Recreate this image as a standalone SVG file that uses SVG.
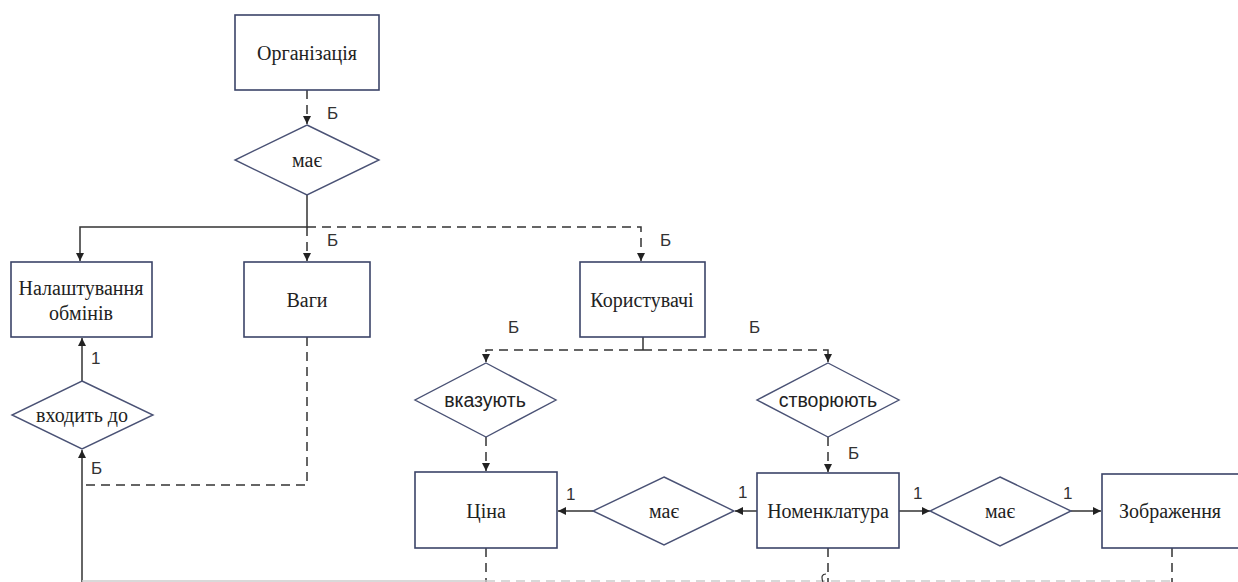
<svg xmlns="http://www.w3.org/2000/svg" width="1238" height="582" viewBox="0 0 1238 582">
<style>
.ent{fill:#fff;stroke:#3b4468;stroke-width:1.6}
.rel{fill:#fff;stroke:#4a5275;stroke-width:1.4}
.t{font-family:"Liberation Serif",serif;font-size:20px;fill:#222;text-anchor:middle;dominant-baseline:central}
.ts{font-family:"Liberation Sans",sans-serif;font-size:19.5px;fill:#222;text-anchor:middle;dominant-baseline:central}
.lab{font-family:"Liberation Sans",sans-serif;font-size:17px;fill:#333}
.s{fill:none;stroke:#333;stroke-width:1.5}
.d{fill:none;stroke:#333;stroke-width:1.5;stroke-dasharray:9 6}
.g{fill:none;stroke:#ccc;stroke-width:1.5}
.gd{fill:none;stroke:#ccc;stroke-width:1.5;stroke-dasharray:9 6}
</style>
<defs>
<marker id="ah" viewBox="0 0 10 10" refX="10" refY="5" markerWidth="8" markerHeight="8" markerUnits="userSpaceOnUse" orient="auto">
<path d="M0,0 L10,5 L0,10 z" fill="#222"/>
</marker>
</defs>
<g id="connectors">
<line class="d" x1="307" y1="90" x2="307" y2="124" marker-end="url(#ah)"/>
<polyline class="s" points="307,195 307,227 80,227 80,261" marker-end="url(#ah)"/>
<line class="d" x1="307" y1="227" x2="307" y2="261" marker-end="url(#ah)"/>
<polyline class="d" points="307,227 641,227 641,261" marker-end="url(#ah)"/>
<line class="s" x1="643" y1="337" x2="643" y2="350"/>
<polyline class="d" points="643,350 486,350 486,362" marker-end="url(#ah)"/>
<polyline class="d" points="643,350 828,350 828,362" marker-end="url(#ah)"/>
<line class="d" x1="486" y1="437" x2="486" y2="471" marker-end="url(#ah)"/>
<line class="d" x1="828" y1="437" x2="828" y2="472" marker-end="url(#ah)"/>
<line class="s" x1="757" y1="511" x2="735" y2="511" marker-end="url(#ah)"/>
<line class="s" x1="593" y1="511" x2="558" y2="511" marker-end="url(#ah)"/>
<line class="s" x1="899" y1="511" x2="930" y2="511" marker-end="url(#ah)"/>
<line class="s" x1="1071" y1="511" x2="1101" y2="511" marker-end="url(#ah)"/>
<line class="s" x1="82" y1="381" x2="82" y2="338" marker-end="url(#ah)"/>
<polyline class="s" points="82,582 82,450" marker-end="url(#ah)"/>
<polyline class="d" points="307,337 307,485 82,485"/>
<line class="d" x1="486" y1="548" x2="486" y2="582"/>
<line class="d" x1="828" y1="548" x2="828" y2="582"/>
<line class="d" x1="1172" y1="548" x2="1172" y2="582"/>
<line class="g" x1="82" y1="581" x2="486" y2="581"/>
<line class="gd" x1="486" y1="581" x2="1170" y2="581"/>
<path d="M823,582 Q820,574 826,574" fill="none" stroke="#333" stroke-width="1.2"/>
<text class="lab" x="327" y="119">Б</text>
<text class="lab" x="327" y="246">Б</text>
<text class="lab" x="660" y="246">Б</text>
<text class="lab" x="508" y="333">Б</text>
<text class="lab" x="749" y="333">Б</text>
<text class="lab" x="848" y="459">Б</text>
<text class="lab" x="91" y="364">1</text>
<text class="lab" x="91" y="474">Б</text>
<text class="lab" x="566" y="500">1</text>
<text class="lab" x="738" y="498">1</text>
<text class="lab" x="913" y="499">1</text>
<text class="lab" x="1063" y="499">1</text>
</g>
<g id="org"><rect class="ent" x="235" y="15" width="144" height="75"/><text class="t" x="307" y="53">Організація</text></g>
<g id="rel-mae1"><polygon class="rel" points="307,125 379,160 307,195 235,160"/><text class="t" x="307" y="160">має</text></g>
<g id="nalasht"><rect class="ent" x="11" y="262" width="141" height="75"/><text class="t" x="81" y="288">Налаштування</text><text class="t" x="81" y="313">обмінів</text></g>
<g id="vagy"><rect class="ent" x="244" y="262" width="126" height="75"/><text class="t" x="307" y="300">Ваги</text></g>
<g id="korystuvachi"><rect class="ent" x="580" y="262" width="125" height="75"/><text class="t" x="642" y="300">Користувачі</text></g>
<g id="rel-vkazuiut"><polygon class="rel" points="486,363 556,400 486,437 415,400"/><text class="ts" x="485" y="400">вказують</text></g>
<g id="rel-stvoriuiut"><polygon class="rel" points="828,363 899,400 828,437 757,400"/><text class="ts" x="828" y="400">створюють</text></g>
<g id="rel-vkhodyt"><polygon class="rel" points="82,381 153,415 82,449 12,415"/><text class="t" x="82" y="415">входить до</text></g>
<g id="tsina"><rect class="ent" x="415" y="472" width="142" height="76"/><text class="t" x="486" y="511">Ціна</text></g>
<g id="rel-mae2"><polygon class="rel" points="664,477 734,511 664,545 593,511"/><text class="t" x="664" y="511">має</text></g>
<g id="nomenklatura"><rect class="ent" x="757" y="473" width="142" height="75"/><text class="t" x="828" y="511">Номенклатура</text></g>
<g id="rel-mae3"><polygon class="rel" points="1000,477 1071,511 1000,546 930,511"/><text class="t" x="1000" y="511">має</text></g>
<g id="zobrazhennia"><rect class="ent" x="1102" y="474" width="140" height="74"/><text class="t" x="1170" y="511">Зображення</text></g>
</svg>
